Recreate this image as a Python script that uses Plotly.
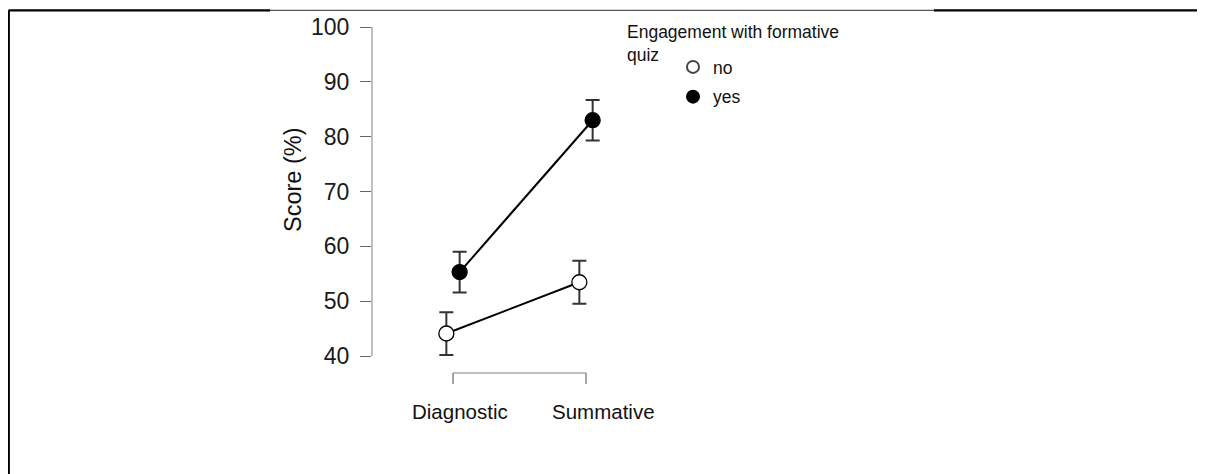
import plotly.graph_objects as go

# ---- data ----
categories = ["Diagnostic", "Summative"]
groups = ["no", "yes"]
no_mean = [44.1, 53.45]
no_err = [3.9, 3.9]
yes_mean = [55.3, 83.0]
yes_err = [3.7, 3.7]
y_ticks = [40, 50, 60, 70, 80, 90, 100]
legend_title = "Engagement with formative<br>quiz"
y_title = "Score (%)"

OFF = 8  # page body margin offset
W, H = 1205 - OFF, 474 - OFF
# plot area in reference (screen) pixels
PL, PR, PT, PB = 372, 700, 20, 390
FONT = "Liberation Sans, Arial, sans-serif"


def px_x(p):
    return (p - PL) / (PR - PL)


def px_y(p):
    return (PB - p) / (PB - PT)


dodge = 0.05
xi = list(range(len(categories)))

fig = go.Figure()
fig.add_trace(go.Scatter(
    x=[i - dodge for i in xi], y=no_mean, name=groups[0], mode="lines+markers",
    showlegend=False,
    line=dict(color="black", width=2),
    marker=dict(symbol="circle", size=15, color="white", line=dict(color="black", width=1.3)),
    error_y=dict(type="data", array=no_err, color="#333333", thickness=2, width=7),
))
fig.add_trace(go.Scatter(
    x=[i + dodge for i in xi], y=yes_mean, name=groups[1], mode="lines+markers",
    showlegend=False,
    line=dict(color="black", width=2),
    marker=dict(symbol="circle", size=15, color="black", line=dict(color="black", width=1.3)),
    error_y=dict(type="data", array=yes_err, color="#333333", thickness=2, width=7),
))
# legend entries (markers only)
fig.add_trace(go.Scatter(x=[None], y=[None], name=groups[0], mode="markers", legendgroup="a",
                         marker=dict(symbol="circle", size=13, color="white",
                                     line=dict(color="#444444", width=1.2))))
fig.add_trace(go.Scatter(x=[None], y=[None], name=groups[1], mode="markers", legendgroup="b",
                         marker=dict(symbol="circle", size=13, color="black",
                                     line=dict(color="black", width=1.2))))

# y range so that 40 -> 356px, 100 -> 27px
ppu = (356 - 27) / 60.0
y_lo = 40 - (PB - 356) / ppu
y_hi = 100 + (27 - PT) / ppu
# x range so that 0 -> 453px, 1 -> 586px
ppx = 586 - 453
x_lo = 0 - (453 - PL) / ppx
x_hi = 1 + (PR - 586) / ppx

fig.update_layout(
    width=W, height=H,
    margin=dict(l=PL - OFF, r=W - (PR - OFF), t=PT - OFF, b=H - (PB - OFF), pad=0,
                autoexpand=False),
    paper_bgcolor="white", plot_bgcolor="white",
    font=dict(family=FONT, color="#111111"),
    showlegend=True,
    legend=dict(x=px_x(673), y=px_y(49), xanchor="left", yanchor="top",
                font=dict(size=17.5, family=FONT, color="#111111"),
                tracegroupgap=4, itemsizing="constant", bgcolor="rgba(0,0,0,0)"),
    xaxis=dict(range=[x_lo, x_hi], showgrid=False, zeroline=False, showline=False,
               showticklabels=False, ticks="", automargin=False),
    yaxis=dict(range=[y_lo, y_hi], tickvals=y_ticks, showgrid=False, zeroline=False,
               showline=False, ticks="outside", ticklen=11, tickwidth=1.3,
               ticklabelstandoff=6, automargin=False,
               tickcolor="#666666", tickfont=dict(size=23, family=FONT, color="#1a1a1a")),
)

shapes = []
# y axis line
shapes.append(dict(type="line", xref="paper", yref="y", x0=0, x1=0, y0=y_ticks[0], y1=y_ticks[-1],
                   line=dict(color="#aaaaaa", width=1.5)))
# x bracket
yb = px_y(373)
yb2 = px_y(384)
shapes.append(dict(type="line", xref="x", yref="paper", x0=xi[0], x1=xi[-1], y0=yb, y1=yb,
                   line=dict(color="#aaaaaa", width=1.5)))
for i in xi:
    shapes.append(dict(type="line", xref="x", yref="paper", x0=i, x1=i, y0=yb, y1=yb2,
                       line=dict(color="#888888", width=1.5)))
# frame: left and top
fx = px_x(OFF + 0.6)
fy = px_y(OFF + 2.3)
shapes.append(dict(type="line", xref="paper", yref="paper", x0=fx, x1=fx,
                   y0=fy, y1=px_y(500), line=dict(color="black", width=2.6)))
shapes.append(dict(type="line", xref="paper", yref="paper", x0=fx, x1=px_x(270),
                   y0=fy, y1=fy, line=dict(color="black", width=2.2)))
shapes.append(dict(type="line", xref="paper", yref="paper", x0=px_x(270), x1=px_x(934),
                   y0=fy, y1=fy, line=dict(color="#555555", width=1.3)))
shapes.append(dict(type="line", xref="paper", yref="paper", x0=px_x(934), x1=px_x(1230),
                   y0=fy, y1=fy, line=dict(color="black", width=2.2)))
fig.update_layout(shapes=shapes)

ann = []
label_shift = [7, 17]
for i, c in enumerate(categories):
    ann.append(dict(x=xi[i], y=px_y(411), xref="x", yref="paper", text=c, showarrow=False,
                    xanchor="center", yanchor="middle",
                    xshift=label_shift[i], font=dict(size=20.5, family=FONT, color="#111111")))
ann.append(dict(x=px_x(293), y=px_y(180), xref="paper", yref="paper", text=y_title,
                xanchor="center", yanchor="middle",
                textangle=-90, showarrow=False, font=dict(size=23.5, family=FONT, color="#111111")))
ann.append(dict(x=px_x(625), y=px_y(20), xref="paper", yref="paper", text=legend_title,
                xanchor="left", yanchor="top", align="left", showarrow=False,
                font=dict(size=17.5, family=FONT, color="#111111")))
fig.update_layout(annotations=ann)

fig.write_html("out.html")
